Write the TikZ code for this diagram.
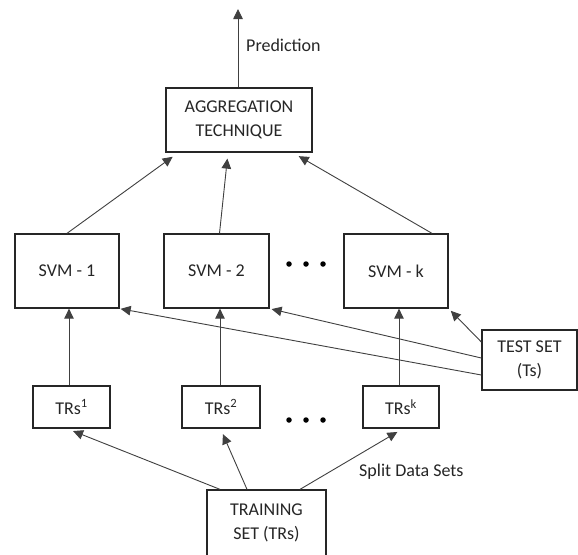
\documentclass[tikz,border=0pt]{standalone}
\usepackage{fontspec}
\setmainfont{Carlito}
\usetikzlibrary{arrows.meta,calc}
\begin{document}
\begin{tikzpicture}[x=1pt,y=-1pt,
  box/.style={draw=black!85, line width=1.3pt, rectangle, inner sep=0pt, align=center,
    font=\fontsize{18}{24}\selectfont, text=black!85},
  conn/.style={draw=black!75, line width=0.9pt, -{Triangle[length=10pt,width=9.5pt]}},
  lbl/.style={font=\fontsize{18}{22}\selectfont, text=black!85, inner sep=0pt},
  bigdot/.style={circle, fill=black, inner sep=0pt, minimum size=5.5pt}]
\useasboundingbox (0,0) rectangle (578,554);
\fill[white] (0,0) rectangle (578,554);

% boxes
\node[box, minimum width=146pt, minimum height=64pt] (agg) at (239,120) {AGGREGATION\\TECHNIQUE};
\node[box, minimum width=104pt, minimum height=74pt] (svm1) at (67,271) {SVM - 1};
\node[box, minimum width=105pt, minimum height=74pt] (svm2) at (216.5,271) {SVM - 2};
\node[box, minimum width=104pt, minimum height=74pt] (svmk) at (396,271) {SVM - k};
\node[box, minimum width=77pt, minimum height=42pt] (trs1) at (71.5,407) {TRs\textsuperscript{1}};
\node[box, minimum width=78pt, minimum height=42pt] (trs2) at (221,407) {TRs\textsuperscript{2}};
\node[box, minimum width=76pt, minimum height=42pt] (trsk) at (401,407) {TRs\textsuperscript{k}};
\node[box, minimum width=95pt, minimum height=60pt] (test) at (529.5,360) {TEST SET\\(Ts)};
\node[box, minimum width=119pt, minimum height=66pt] (train) at (266.5,523) {TRAINING\\SET (TRs)};

% dots
\node[bigdot] (da1) at (289,264) {};
\node[bigdot] (da2) at (306,264) {};
\node[bigdot] (da3) at (323,264) {};
\node[bigdot] (db1) at (289,420) {};
\node[bigdot] (db2) at (306,420) {};
\node[bigdot] (db3) at (323,420) {};

% labels
\node[lbl, anchor=west] (pred) at (246,45) {Prediction};
\node[lbl, anchor=west] (split) at (359,472) {Split Data Sets};

% prediction output
\coordinate (out) at (238,9);
\draw[conn] ([xshift=-1pt]agg.north) -- (out);

% SVM -> aggregation
\draw[conn, shorten >=7pt] (svm1.north) -- ([xshift=13pt]agg.south west);
\draw[conn, shorten >=6pt] ([xshift=3pt]svm2.north) -- ([xshift=-11pt]agg.south);
\draw[conn, shorten >=7pt] ([xshift=36pt]svmk.north) -- ([xshift=-20pt]agg.south east);

% TRs -> SVM
\draw[conn] ([xshift=-2.5pt]trs1.north) -- ([xshift=2pt]svm1.south);
\draw[conn] ([xshift=-1pt]trs2.north) -- ([xshift=3.5pt]svm2.south);
\draw[conn] ([xshift=-2pt]trsk.north) -- ([xshift=3pt]svmk.south);

% test set -> SVM
\draw[conn, shorten >=1pt] ([yshift=-15pt]test.west) -- (svm1.south east);
\draw[conn, shorten >=2pt] ([yshift=2pt]test.west) -- (svm2.south east);
\draw[conn, shorten >=3pt] ([yshift=18pt]test.west) -- (svmk.south east);

% training -> TRs
\draw[conn, shorten >=6.5pt] ([xshift=-46.5pt]train.north) -- ([xshift=-4.5pt]trs1.south);
\draw[conn, shorten >=6pt] ([xshift=-19.5pt]train.north) -- ([xshift=-0.5pt]trs2.south);
\draw[conn, shorten >=6.5pt] ([xshift=33.5pt]train.north) -- ([xshift=2pt]trsk.south);
\end{tikzpicture}
\end{document}
